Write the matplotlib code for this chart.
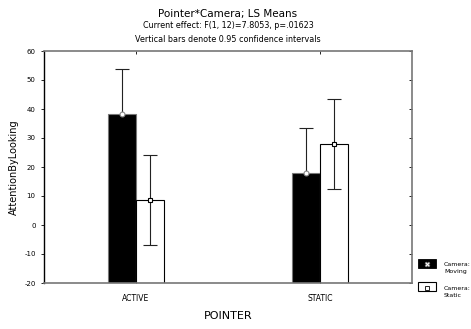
import matplotlib
matplotlib.use('Agg')
import numpy as np
import matplotlib.pyplot as plt
from matplotlib.lines import Line2D
from matplotlib.patches import Rectangle
from matplotlib.transforms import Bbox, TransformedBbox

# Data
pointer = ['ACTIVE', 'STATIC']
moving = [38.3, 17.9]
static = [8.5, 27.8]
ci = [15.5, 15.5]
yticks = [-20, -10, 0, 10, 20, 30, 40, 50, 60]

W, H = 471, 329
fig = plt.figure(figsize=(W/100., H/100.), dpi=100)
ax = fig.add_axes([44./W, 1-283./H, (412-44.)/W, (283-51.)/H])

x = np.arange(len(pointer))
bw = 0.152
ax.bar(x - bw/2, moving, bw, color='black', edgecolor='#777777',
       linewidth=0.8, zorder=2)
ax.bar(x + bw/2, static, bw, color='white', edgecolor='black',
       linewidth=0.8, zorder=2)
# bars start from the bottom of the axis
for p in ax.patches:
    h = p.get_height()
    p.set_y(-20)
    p.set_height(h + 20)

ax.errorbar(x - bw/2, moving, yerr=ci, fmt='none', ecolor='#222222',
            elinewidth=0.8, capsize=5, capthick=0.8, zorder=1)
ax.errorbar(x + bw/2, static, yerr=ci, fmt='none', ecolor='#222222',
            elinewidth=0.8, capsize=5, capthick=0.8, zorder=3)
ax.plot(x - bw/2, moving, 'o', ms=3.5, mfc='white', mec='#888888',
        mew=0.8, zorder=4)
ax.plot(x + bw/2, static, 's', ms=3.5, mfc='white', mec='black',
        mew=0.8, zorder=4)

ax.set_xlim(-0.5, 1.5)
ax.set_ylim(-20, 60)
ax.set_xticks(x)
ax.set_xticklabels(pointer, fontsize=5.5)
ax.set_yticks(yticks)
ax.set_yticklabels([str(v) for v in yticks], fontsize=5)
ax.tick_params(axis='y', direction='out', length=2, width=0.6, pad=4)
ax.tick_params(axis='x', direction='in', length=2, width=0.6, pad=8,
               top=True)
ax.tick_params(axis='y', which='both', right=True)
for t in ax.yaxis.get_major_ticks():
    t.tick2line.set_marker(matplotlib.lines.TICKLEFT)
for s in ['top', 'right', 'bottom']:
    ax.spines[s].set_color('#777777')
    ax.spines[s].set_linewidth(1.2)
ax.spines['left'].set_color('black')
ax.spines['left'].set_linewidth(1.0)

ax.set_ylabel('AttentionByLooking', fontsize=7, labelpad=4)
ax.set_xlabel('POINTER', fontsize=8, labelpad=6)

fig.text(228./W, 1-14./H, 'Pointer*Camera; LS Means', ha='center',
         va='center', fontsize=7.5)
fig.text(228./W, 1-26./H, 'Current effect: F(1, 12)=7.8053, p=.01623',
         ha='center', va='center', fontsize=5.8)
# bottom of this line is cut off in the original
t3 = fig.text(228./W, 1-40./H, 'Vertical bars denote 0.95 confidence intervals',
              ha='center', va='center', fontsize=5.8)
t3.set_clip_box(TransformedBbox(Bbox([[0, 1-42.5/H], [1, 1]]), fig.transFigure))
t3.set_clip_on(True)

# legend outside lower right
fig.patches.append(Rectangle((418./W, 1-268./H), 18./W, 9./H,
                             transform=fig.transFigure, fc='black',
                             ec='black', lw=0.6))
fig.lines.append(Line2D([427./W], [1-263.5/H], transform=fig.transFigure,
                        marker='X', ms=3.5, mfc='white', mec='#888888',
                        mew=0.5, ls='none'))
fig.patches.append(Rectangle((418./W, 1-291./H), 18./W, 9./H,
                             transform=fig.transFigure, fc='white',
                             ec='black', lw=0.8))
fig.lines.append(Line2D([427./W], [1-287.5/H], transform=fig.transFigure,
                        marker='s', ms=3.5, mfc='white', mec='black',
                        mew=0.6, ls='none'))
fig.text(444./W, 1-268./H, 'Camera:\nMoving', fontsize=4.5, va='center',
         ha='left', linespacing=1.7)
fig.text(444./W, 1-292./H, 'Camera:\nStatic', fontsize=4.5, va='center',
         ha='left', linespacing=1.7)

fig.savefig('out.png', dpi=100)
